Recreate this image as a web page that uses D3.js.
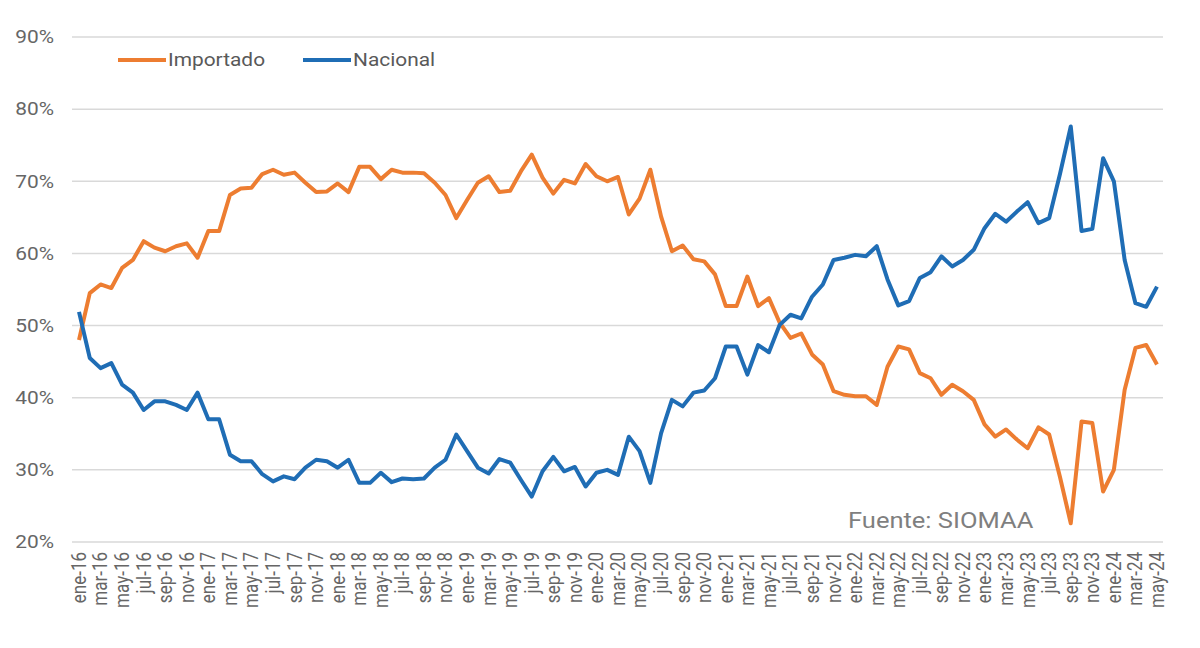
<!DOCTYPE html>
<html>
<head>
<meta charset="utf-8">
<script src="https://cdn.jsdelivr.net/npm/d3@7"></script>
<style>
  body { margin: 0; background: #fff; }
  text { font-family: Roboto, "Open Sans", sans-serif; }
</style>
</head>
<body>
<div id="chart"></div>
<script>
// month names and years used for the category axis
const monthNames = ["ene","feb","mar","abr","may","jun","jul","ago","sep","oct","nov","dic"];
const years = ["16","17","18","19","20","21","22","23","24"];

// share of imported product, ene-16 .. may-24
const importado = [
  48.0, 54.5, 55.7, 55.2, 58.0, 59.1, 61.7, 60.8, 60.3, 61.0, 61.4, 59.4,
  63.1, 63.1, 68.1, 69.0, 69.1, 71.0, 71.6, 70.9, 71.2, 69.8, 68.5, 68.6,
  69.7, 68.5, 72.0, 72.0, 70.3, 71.6, 71.2, 71.2, 71.1, 69.8, 68.1, 64.9,
  67.4, 69.8, 70.7, 68.5, 68.7, 71.4, 73.7, 70.5, 68.3, 70.2, 69.7, 72.4,
  70.7, 70.0, 70.6, 65.4, 67.6, 71.6, 65.1, 60.3, 61.1, 59.2, 58.9, 57.1,
  52.7, 52.7, 56.8, 52.7, 53.8, 50.4, 48.3, 48.9, 46.0, 44.6, 40.9, 40.4,
  40.2, 40.2, 39.0, 44.3, 47.1, 46.7, 43.4, 42.7, 40.4, 41.8, 40.9, 39.7,
  36.3, 34.6, 35.6, 34.2, 33.0, 35.9, 34.9, 29.0, 22.6, 36.7, 36.5, 27.0,
  30.0, 41.1, 46.9, 47.3, 44.6
];

// share of national product, ene-16 .. may-24
const nacional = [
  51.9, 45.5, 44.1, 44.8, 41.8, 40.7, 38.3, 39.5, 39.5, 39.0, 38.3, 40.7,
  37.0, 37.0, 32.1, 31.2, 31.2, 29.4, 28.4, 29.1, 28.7, 30.3, 31.4, 31.2,
  30.3, 31.4, 28.2, 28.2, 29.6, 28.3, 28.8, 28.7, 28.8, 30.3, 31.4, 34.9,
  32.6, 30.3, 29.5, 31.5, 31.0, 28.6, 26.3, 29.8, 31.8, 29.8, 30.4, 27.7,
  29.6, 30.0, 29.3, 34.6, 32.6, 28.2, 35.1, 39.7, 38.8, 40.7, 41.0, 42.7,
  47.1, 47.1, 43.2, 47.3, 46.3, 50.1, 51.5, 51.0, 54.0, 55.7, 59.1, 59.4,
  59.8, 59.6, 61.0, 56.4, 52.8, 53.4, 56.6, 57.4, 59.6, 58.2, 59.1, 60.5,
  63.5, 65.5, 64.4, 65.8, 67.1, 64.2, 64.9, 71.0, 77.6, 63.1, 63.4, 73.2,
  70.0, 59.1, 53.1, 52.6, 55.4
];

const yTicks = [20, 30, 40, 50, 60, 70, 80, 90];

// categories ene-16 .. may-24
const categories = [];
years.forEach(y => monthNames.forEach(m => categories.push(m + "-" + y)));
categories.length = importado.length;

const W = 1200, H = 648;
const stretch = 1.16;   // the original text is a bit wider than plain Roboto

var svg = d3.select("#chart")
  .append("svg")
    .attr("width", W)
    .attr("height", H);

var x = d3.scalePoint()
  .domain(categories)
  .range([79, 1157]);

var y = d3.scaleLinear()
  .domain([20, 90])
  .range([542, 37]);

// gridlines
svg.append("g")
  .selectAll("line")
  .data(yTicks)
  .enter().append("line")
    .attr("x1", 72)
    .attr("x2", 1163)
    .attr("y1", d => y(d))
    .attr("y2", d => y(d))
    .attr("stroke", "#d9d9d9")
    .attr("stroke-width", 1.5);

// y tick labels
svg.append("g")
  .selectAll("text")
  .data(yTicks)
  .enter().append("text")
    .attr("transform", d => "translate(54," + y(d) + ") scale(" + stretch + ",1)")
    .attr("dy", "0.35em")
    .attr("text-anchor", "end")
    .attr("fill", "#666")
    .style("font-size", "18px")
    .text(d => d + "%");

// x tick labels, every second month, rotated
svg.append("g")
  .selectAll("text")
  .data(categories.filter((d, i) => i % 2 === 0))
  .enter().append("text")
    .attr("transform", d => "translate(" + x(d) + ",552) rotate(-90) scale(1," + stretch + ")")
    .attr("dy", "0.35em")
    .attr("text-anchor", "end")
    .attr("fill", "#666")
    .style("font-size", "17px")
    .text(d => d);

var line = d3.line()
  .x((d, i) => x(categories[i]))
  .y(d => y(d));

svg.append("path")
  .datum(importado)
  .attr("fill", "none")
  .attr("stroke", "#ED7D31")
  .attr("stroke-width", 4)
  .attr("stroke-linejoin", "round")
  .attr("d", line);

svg.append("path")
  .datum(nacional)
  .attr("fill", "none")
  .attr("stroke", "#1F6DB5")
  .attr("stroke-width", 4)
  .attr("stroke-linejoin", "round")
  .attr("d", line);

// legend
const legend = [
  {name: "Importado", color: "#ED7D31", x: 118},
  {name: "Nacional", color: "#1F6DB5", x: 303}
];
var lg = svg.append("g")
  .selectAll("g")
  .data(legend)
  .enter().append("g")
    .attr("transform", d => "translate(" + d.x + ",60)");
lg.append("line")
  .attr("x1", 0).attr("x2", 48)
  .attr("stroke", d => d.color)
  .attr("stroke-width", 4);
lg.append("text")
  .attr("transform", "translate(50,0) scale(" + stretch + ",1)")
  .attr("dy", "0.35em")
  .attr("fill", "#595959")
  .style("font-size", "18px")
  .text(d => d.name);

// source note
svg.append("text")
  .attr("transform", "translate(848,528) scale(" + stretch + ",1)")
  .attr("fill", "#7f7f7f")
  .style("font-size", "22px")
  .text("Fuente: SIOMAA");
</script>
</body>
</html>
